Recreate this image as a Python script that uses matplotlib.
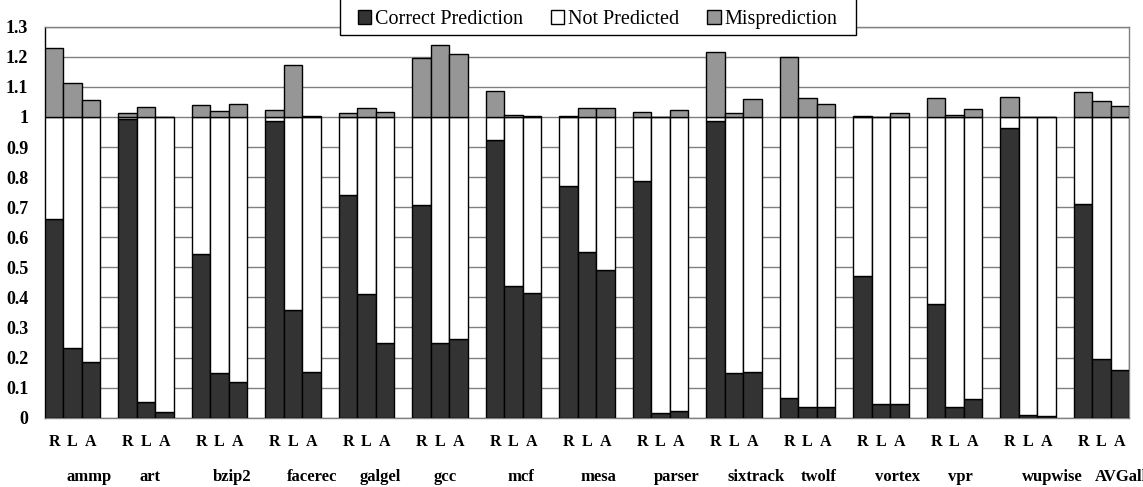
import matplotlib
matplotlib.use("Agg")
import matplotlib.pyplot as plt
from matplotlib.patches import Rectangle
import numpy as np

plt.rcParams['font.family'] = ['Liberation Serif', 'DejaVu Serif']

groups = ['ammp', 'art', 'bzip2', 'facerec', 'galgel', 'gcc', 'mcf', 'mesa',
          'parser', 'sixtrack', 'twolf', 'vortex', 'vpr', 'wupwise', 'AVGall']
bar_labels = ['R', 'L', 'A']

correct_R = [0.66, 0.994, 0.544, 0.987, 0.74, 0.706, 0.922, 0.772, 0.787, 0.986, 0.066, 0.471, 0.377, 0.963, 0.711]
correct_L = [0.231, 0.053, 0.15, 0.358, 0.412, 0.248, 0.439, 0.55, 0.014, 0.148, 0.037, 0.046, 0.034, 0.01, 0.196]
correct_A = [0.184, 0.02, 0.12, 0.152, 0.25, 0.261, 0.414, 0.492, 0.021, 0.153, 0.037, 0.047, 0.063, 0.006, 0.159]

mispred_R = [0.23, 0.014, 0.04, 0.024, 0.014, 0.197, 0.086, 0.003, 0.016, 0.217, 0.2, 0.003, 0.064, 0.066, 0.083]
mispred_L = [0.113, 0.033, 0.02, 0.172, 0.029, 0.239, 0.008, 0.031, 0.0, 0.013, 0.064, 0.0, 0.006, 0.0, 0.052]
mispred_A = [0.057, 0.0, 0.044, 0.003, 0.016, 0.21, 0.003, 0.031, 0.022, 0.058, 0.042, 0.013, 0.027, 0.0, 0.037]

series_labels = ['Correct Prediction', 'Not Predicted', 'Misprediction']
colors = ['#333333', '#ffffff', '#969696']

fig = plt.figure(figsize=(11.43, 4.87), dpi=100)
W, H = 1143, 487
ax = fig.add_axes([45 / W, (H - 417.7) / H, (1129 - 45) / W, (417.7 - 26.7) / H])

correct = [correct_R, correct_L, correct_A]
mispred = [mispred_R, mispred_L, mispred_A]
n = len(groups)
handles = None
for j in range(3):
    x = np.arange(n) * 4 + j + 0.5
    c = np.array(correct[j])
    npred = 1.0 - c
    m = np.array(mispred[j])
    kw = dict(width=1.0, edgecolor='black', linewidth=1.0, zorder=3)
    b1 = ax.bar(x, c, color=colors[0], **kw)
    b2 = ax.bar(x, npred, bottom=c, color=colors[1], **kw)
    b3 = ax.bar(x, m, bottom=1.0, color=colors[2], **kw)
    if handles is None:
        handles = [b1, b2, b3]

ax.set_xlim(0, 4 * n - 1)
ax.set_ylim(0, 1.3)
yt = np.round(np.arange(0, 1.31, 0.1), 1)
ax.set_yticks(yt)
ax.set_yticklabels([('%g' % v) for v in yt], fontsize=13, fontweight='bold')
ax.tick_params(axis='y', length=0, pad=12)

xt = [4 * i + j + 0.5 for i in range(n) for j in range(3)]
ax.set_xticks(xt)
ax.set_xticklabels(bar_labels * n, fontsize=11.5, fontweight='bold')
ax.tick_params(axis='x', length=0, pad=12)

ax.set_axisbelow(True)
ax.yaxis.grid(True, color='#808080', linewidth=1.0, zorder=0)

for s in ['top', 'right', 'bottom']:
    ax.spines[s].set_color('#808080')
    ax.spines[s].set_linewidth(1.0)
ax.spines['left'].set_color('#000000')
ax.spines['left'].set_linewidth(1.0)

for i, g in enumerate(groups):
    ax.text(4 * i + 1.15, (417.7 - 480.7) / 391.0, g, transform=ax.get_xaxis_transform(),
            ha='left', va='baseline', fontsize=12, fontweight='bold', clip_on=False)

# legend box (top extends past the figure edge as in the reference)
box = Rectangle((339.5 / W, 1 - 35 / H), (856 - 339.5) / W, 45 / H,
                transform=fig.transFigure, facecolor='white', edgecolor='black',
                linewidth=1.0, zorder=9)
fig.add_artist(box)

leg = fig.legend(handles, series_labels, loc='lower center', ncol=3,
                 bbox_to_anchor=(597.6 / W, 1 - 35 / H), fontsize=14.5,
                 frameon=False,
                 handlelength=0.65, handleheight=0.65, handletextpad=0.2,
                 columnspacing=1.4, borderpad=0.3, borderaxespad=0)
leg.set_zorder(10)

fig.savefig('out.png', dpi=100)
